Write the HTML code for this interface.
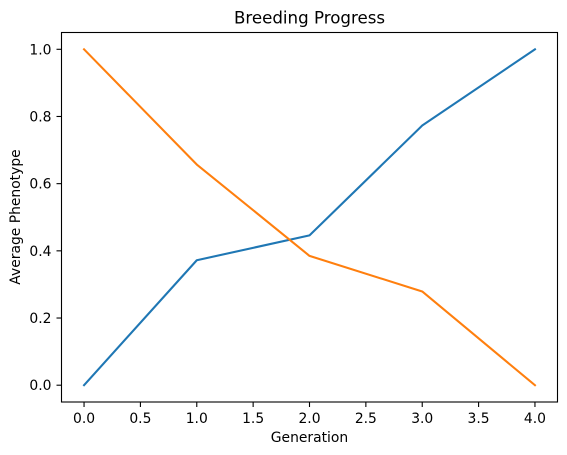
<!DOCTYPE html>
<html>
<head>
<meta charset="utf-8">
<style>
html,body{margin:0;padding:0;background:#fff;}
svg{display:block;}
text{font-family:"DejaVu Sans",sans-serif;fill:#000;}
</style>
</head>
<body>
<svg id="chart" width="567" height="455" viewBox="0 0 567 455" xmlns="http://www.w3.org/2000/svg">
<rect x="0" y="0" width="567" height="455" fill="#fff"/>
<text x="309.5" y="23.5" font-size="16.67" text-anchor="middle">Breeding Progress</text>
<text x="309.5" y="442" font-size="13.89" text-anchor="middle">Generation</text>
<text transform="translate(20,217) rotate(-90)" font-size="13.89" text-anchor="middle">Average Phenotype</text>
<g id="ticks"></g>
<g id="series"></g>
<rect x="61.5" y="32.5" width="496" height="369.5" fill="none" stroke="#000" stroke-width="1.1"/>
</svg>
<script>
const generations = [0, 1, 2, 3, 4];
const blueValues = [0, 0.372, 0.446, 0.773, 1];
const orangeValues = [1, 0.657, 0.385, 0.279, 0];
const xTickValues = [0, 0.5, 1, 1.5, 2, 2.5, 3, 3.5, 4];
const xTickLabels = ['0.0', '0.5', '1.0', '1.5', '2.0', '2.5', '3.0', '3.5', '4.0'];
const yTickValues = [0, 0.2, 0.4, 0.6, 0.8, 1];
const yTickLabels = ['0.0', '0.2', '0.4', '0.6', '0.8', '1.0'];

const NS = 'http://www.w3.org/2000/svg';
const plotLeft = 61.5, plotRight = 557.5, plotTop = 32.5, plotBottom = 402;
const xMin = -0.2, xMax = 4.2, yMin = -0.05, yMax = 1.05;
function xScale(v) { return plotLeft + (v - xMin) / (xMax - xMin) * (plotRight - plotLeft); }
function yScale(v) { return plotBottom - (v - yMin) / (yMax - yMin) * (plotBottom - plotTop); }

const tickGroup = document.getElementById('ticks');
xTickValues.forEach(function (v, i) {
  const x = xScale(v);
  const tick = document.createElementNS(NS, 'line');
  
  
  tick.setAttribute('x1', x); tick.setAttribute('x2', x);
  tick.setAttribute('y1', plotBottom); tick.setAttribute('y2', plotBottom + 5);
  tick.setAttribute('stroke', '#000'); tick.setAttribute('stroke-width', '1.1');
  tickGroup.appendChild(tick);
  const label = document.createElementNS(NS, 'text');
  
  
  label.setAttribute('x', x); label.setAttribute('y', plotBottom + 21);
  label.setAttribute('font-size', '13.89');
  label.setAttribute('text-anchor', 'middle');
  label.textContent = xTickLabels[i];
  tickGroup.appendChild(label);
});
yTickValues.forEach(function (v, i) {
  const y = yScale(v);
  const tick = document.createElementNS(NS, 'line');
  
  
  tick.setAttribute('x1', plotLeft - 5); tick.setAttribute('x2', plotLeft);
  tick.setAttribute('y1', y); tick.setAttribute('y2', y);
  tick.setAttribute('stroke', '#000'); tick.setAttribute('stroke-width', '1.1');
  tickGroup.appendChild(tick);
  const label = document.createElementNS(NS, 'text');
  
  
  label.setAttribute('x', plotLeft - 10); label.setAttribute('y', y + 5);
  label.setAttribute('font-size', '13.89');
  label.setAttribute('text-anchor', 'end');
  label.textContent = yTickLabels[i];
  tickGroup.appendChild(label);
});

const seriesGroup = document.getElementById('series');
function pointsFor(values) {
  return values.map(function (v, i) { return xScale(generations[i]) + ',' + yScale(v); }).join(' ');
}
const blueLine = document.createElementNS(NS, 'polyline');


blueLine.setAttribute('points', pointsFor(blueValues));
blueLine.setAttribute('fill', 'none');
blueLine.setAttribute('stroke', '#1f77b4');
blueLine.setAttribute('stroke-width', '2.08');
blueLine.setAttribute('stroke-linecap', 'square');
blueLine.setAttribute('stroke-linejoin', 'round');
seriesGroup.appendChild(blueLine);
const orangeLine = document.createElementNS(NS, 'polyline');


orangeLine.setAttribute('points', pointsFor(orangeValues));
orangeLine.setAttribute('fill', 'none');
orangeLine.setAttribute('stroke', '#ff7f0e');
orangeLine.setAttribute('stroke-width', '2.08');
orangeLine.setAttribute('stroke-linecap', 'square');
orangeLine.setAttribute('stroke-linejoin', 'round');
seriesGroup.appendChild(orangeLine);
</script>
</body>
</html>
